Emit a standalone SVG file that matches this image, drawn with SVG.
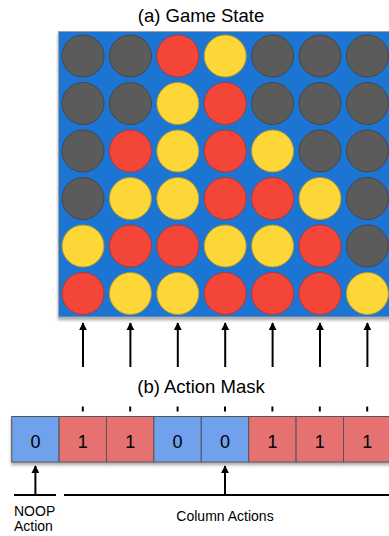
<svg xmlns="http://www.w3.org/2000/svg" width="389" height="536" viewBox="0 0 389 536">
  <defs>
    <filter id="shadow" x="-10%" y="-10%" width="120%" height="130%">
      <feDropShadow dx="0" dy="2.5" stdDeviation="1.5" flood-color="#000" flood-opacity="0.35"/>
    </filter>
    <marker id="arrow" viewBox="0 0 10 10" refX="9" refY="5" markerWidth="4" markerHeight="4" markerUnits="strokeWidth" orient="auto">
      <path d="M0,0 L10,5 L0,10 z" fill="#000"/>
    </marker>
    <style>
      .title { font-family: "Liberation Sans", Arial, sans-serif; font-size: 18.5px; fill: #000; text-anchor: middle; }
      .label { font-family: "Liberation Sans", Arial, sans-serif; font-size: 14px; fill: #000; }
      .val { font-family: "Liberation Sans", Arial, sans-serif; font-size: 18px; fill: #000; text-anchor: middle; }
      .g { fill: #5b5b5b; stroke: #464646; stroke-width: 1; }
      .r { fill: #f44539; stroke: #b5382e; stroke-width: 1; }
      .y { fill: #fdd638; stroke: #b39a2c; stroke-width: 1; }
      .m0 { fill: #6fa1ec; stroke: #555; stroke-width: 1; }
      .m1 { fill: #e57171; stroke: #555; stroke-width: 1; }
      .arr { stroke: #000; stroke-width: 2; fill: none; marker-end: url(#arrow); }
      .tick { stroke: #000; stroke-width: 2; }
      .rule { stroke: #000; stroke-width: 2; }
    </style>
  </defs>

  <rect width="389" height="536" fill="#fff"/>

  <!-- (a) Game State -->
  <text class="title" x="201" y="22">(a) Game State</text>

  <g id="board">
    <rect x="58.5" y="31.5" width="340" height="285.5" fill="#1b74d3" stroke="#a0a0a0" stroke-width="1" filter="url(#shadow)"/>
    <!-- row 1 -->
    <circle class="g" cx="83" cy="56" r="21"/>
    <circle class="g" cx="130.4" cy="56" r="21"/>
    <circle class="r" cx="177.8" cy="56" r="21"/>
    <circle class="y" cx="225.2" cy="56" r="21"/>
    <circle class="g" cx="272.6" cy="56" r="21"/>
    <circle class="g" cx="320" cy="56" r="21"/>
    <circle class="g" cx="367.4" cy="56" r="21"/>
    <!-- row 2 -->
    <circle class="g" cx="83" cy="103.5" r="21"/>
    <circle class="g" cx="130.4" cy="103.5" r="21"/>
    <circle class="y" cx="177.8" cy="103.5" r="21"/>
    <circle class="r" cx="225.2" cy="103.5" r="21"/>
    <circle class="g" cx="272.6" cy="103.5" r="21"/>
    <circle class="g" cx="320" cy="103.5" r="21"/>
    <circle class="g" cx="367.4" cy="103.5" r="21"/>
    <!-- row 3 -->
    <circle class="g" cx="83" cy="151" r="21"/>
    <circle class="r" cx="130.4" cy="151" r="21"/>
    <circle class="y" cx="177.8" cy="151" r="21"/>
    <circle class="r" cx="225.2" cy="151" r="21"/>
    <circle class="y" cx="272.6" cy="151" r="21"/>
    <circle class="g" cx="320" cy="151" r="21"/>
    <circle class="g" cx="367.4" cy="151" r="21"/>
    <!-- row 4 -->
    <circle class="g" cx="83" cy="198.5" r="21"/>
    <circle class="y" cx="130.4" cy="198.5" r="21"/>
    <circle class="y" cx="177.8" cy="198.5" r="21"/>
    <circle class="r" cx="225.2" cy="198.5" r="21"/>
    <circle class="r" cx="272.6" cy="198.5" r="21"/>
    <circle class="y" cx="320" cy="198.5" r="21"/>
    <circle class="g" cx="367.4" cy="198.5" r="21"/>
    <!-- row 5 -->
    <circle class="y" cx="83" cy="246" r="21"/>
    <circle class="r" cx="130.4" cy="246" r="21"/>
    <circle class="r" cx="177.8" cy="246" r="21"/>
    <circle class="y" cx="225.2" cy="246" r="21"/>
    <circle class="y" cx="272.6" cy="246" r="21"/>
    <circle class="r" cx="320" cy="246" r="21"/>
    <circle class="g" cx="367.4" cy="246" r="21"/>
    <!-- row 6 -->
    <circle class="r" cx="83" cy="293.5" r="21"/>
    <circle class="y" cx="130.4" cy="293.5" r="21"/>
    <circle class="y" cx="177.8" cy="293.5" r="21"/>
    <circle class="r" cx="225.2" cy="293.5" r="21"/>
    <circle class="r" cx="272.6" cy="293.5" r="21"/>
    <circle class="r" cx="320" cy="293.5" r="21"/>
    <circle class="y" cx="367.4" cy="293.5" r="21"/>
  </g>

  <!-- (b) Action Mask -->
  <text class="title" x="201" y="393">(b) Action Mask</text>

  <g id="mask">
    <g filter="url(#shadow)">
      <rect class="m0" x="11.7" y="416.5" width="47.4" height="45.5"/>
      <rect class="m1" x="59.1" y="416.5" width="47.4" height="45.5"/>
      <rect class="m1" x="106.5" y="416.5" width="47.4" height="45.5"/>
      <rect class="m0" x="153.9" y="416.5" width="47.4" height="45.5"/>
      <rect class="m0" x="201.3" y="416.5" width="47.4" height="45.5"/>
      <rect class="m1" x="248.7" y="416.5" width="47.4" height="45.5"/>
      <rect class="m1" x="296.1" y="416.5" width="47.4" height="45.5"/>
      <rect class="m1" x="343.5" y="416.5" width="47.4" height="45.5"/>
    </g>
    <text class="val" x="35.4" y="447.5">0</text>
    <text class="val" x="82.8" y="447.5">1</text>
    <text class="val" x="130.2" y="447.5">1</text>
    <text class="val" x="177.6" y="447.5">0</text>
    <text class="val" x="225" y="447.5">0</text>
    <text class="val" x="272.4" y="447.5">1</text>
    <text class="val" x="319.8" y="447.5">1</text>
    <text class="val" x="367.2" y="447.5">1</text>
  </g>

  <g id="connectors">
    <!-- column arrows into the board -->
    <line class="arr" x1="83" y1="367" x2="83" y2="323"/>
    <line class="arr" x1="130.4" y1="367" x2="130.4" y2="323"/>
    <line class="arr" x1="177.8" y1="367" x2="177.8" y2="323"/>
    <line class="arr" x1="225.2" y1="367" x2="225.2" y2="323"/>
    <line class="arr" x1="272.6" y1="367" x2="272.6" y2="323"/>
    <line class="arr" x1="320" y1="367" x2="320" y2="323"/>
    <line class="arr" x1="367.4" y1="367" x2="367.4" y2="323"/>
    <!-- ticks above mask cells -->
    <line class="tick" x1="82.8" y1="406.5" x2="82.8" y2="411.5"/>
    <line class="tick" x1="130.2" y1="406.5" x2="130.2" y2="411.5"/>
    <line class="tick" x1="177.6" y1="406.5" x2="177.6" y2="411.5"/>
    <line class="tick" x1="225" y1="406.5" x2="225" y2="411.5"/>
    <line class="tick" x1="272.4" y1="406.5" x2="272.4" y2="411.5"/>
    <line class="tick" x1="319.8" y1="406.5" x2="319.8" y2="411.5"/>
    <line class="tick" x1="367.2" y1="406.5" x2="367.2" y2="411.5"/>
    <!-- bracket lines and arrows below mask -->
    <line class="rule" x1="14" y1="495" x2="56" y2="495"/>
    <line class="rule" x1="64" y1="495" x2="392" y2="495"/>
    <line class="arr" x1="35.4" y1="495" x2="35.4" y2="466"/>
    <line class="arr" x1="225" y1="495" x2="225" y2="466"/>
  </g>

  <g id="labels">
    <text class="label" x="14" y="516">NOOP</text>
    <text class="label" x="14" y="531">Action</text>
    <text class="label" x="225" y="521" text-anchor="middle">Column Actions</text>
  </g>
</svg>
